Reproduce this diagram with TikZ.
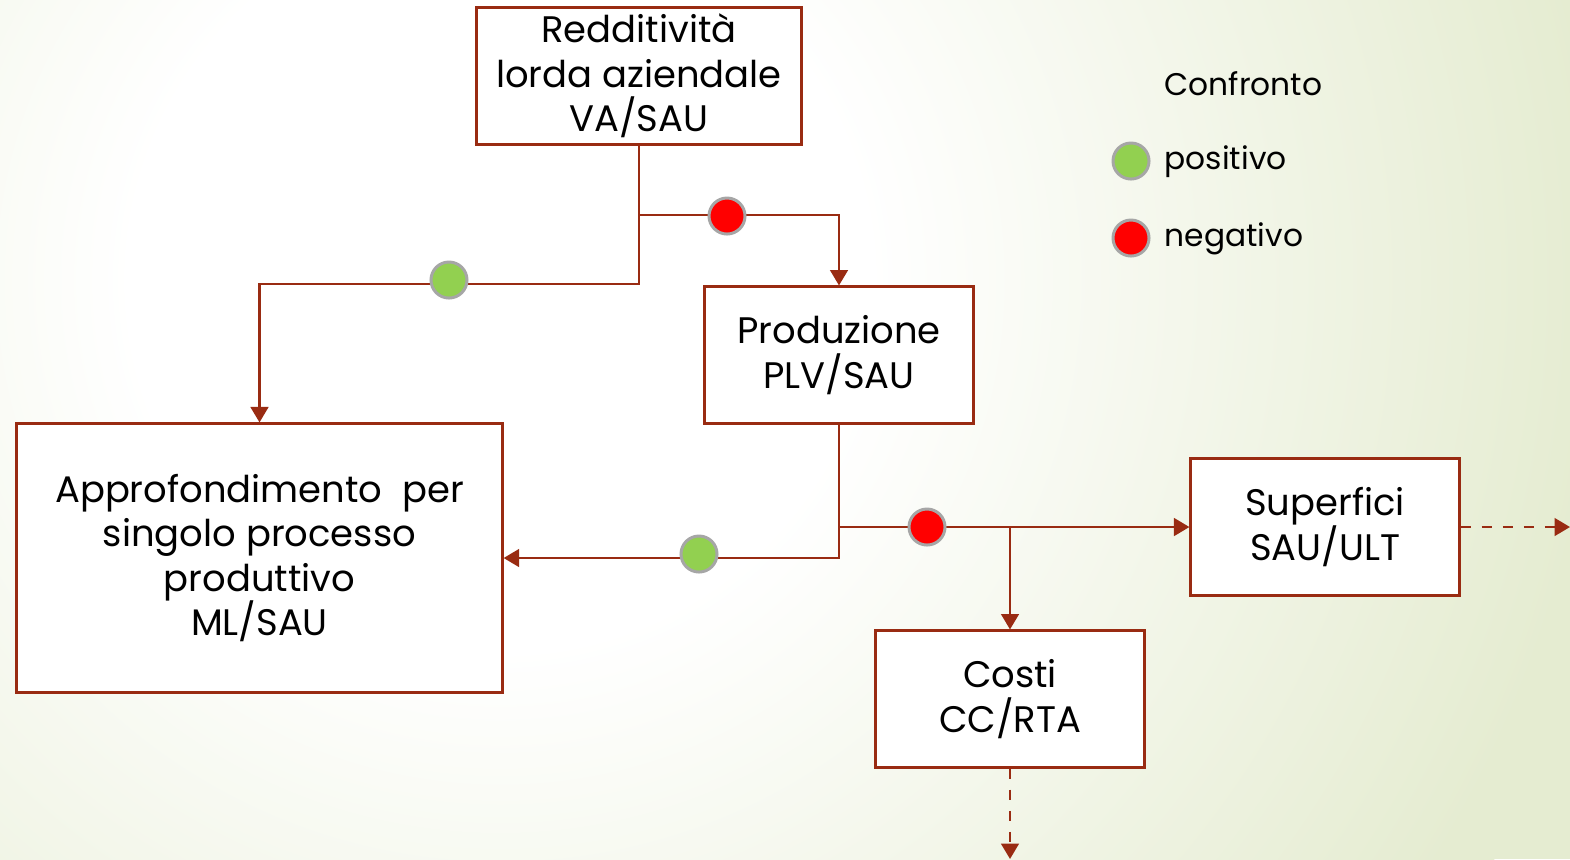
\documentclass[tikz,border=0pt]{standalone}
\usepackage{fontspec}
\setmainfont{Poppins}
\usepackage{xcolor}
\usetikzlibrary{positioning, calc, arrows.meta}

\definecolor{linkred}{RGB}{153,43,18}
\definecolor{dotgreen}{RGB}{146,208,80}
\definecolor{dotred}{RGB}{255,0,0}
\definecolor{dotrim}{RGB}{166,166,166}
\definecolor{bggreen}{RGB}{229,236,209}

\pgfdeclareradialshading{bgshade}{\pgfpoint{0bp}{0bp}}{color(0bp)=(white); color(8bp)=(white); color(24bp)=(bggreen); color(50bp)=(bggreen)}

\begin{document}
\begin{tikzpicture}[x=0.01cm, y=-0.01cm,
    box/.style={rectangle, draw=linkred, line width=0.85pt, fill=white, align=center,
        font=\fontsize{10.5}{12.7}\selectfont, inner sep=0pt},
    link/.style={draw=linkred, line width=0.8pt, -{Triangle[width=5pt, length=4.4pt]}},
    dot/.style={circle, draw=dotrim, line width=0.85pt, minimum size=0.36cm, inner sep=0pt},
    legtxt/.style={anchor=west, inner sep=0pt, font=\fontsize{8.9}{11}\selectfont}]
    % background
    \begin{scope}
        \clip (0,0) rectangle (1570,859);
        \fill[bggreen] (0,0) rectangle (1570,859);
        \shade[shading=bgshade] (500,280) circle[radius=11.5cm];
    \end{scope}
    \useasboundingbox (0,0) rectangle (1570,859);

    % boxes
    \node[box, minimum width=3.24cm, minimum height=1.36cm] (redd) at (639,76) {Redditività\\lorda aziendale\\VA/SAU};
    \node[box, minimum width=2.68cm, minimum height=1.36cm] (prod) at (839,355) {Produzione\\PLV/SAU};
    \node[box, minimum width=4.85cm, minimum height=2.68cm] (appr) at (259.5,558) {Approfondimento~ per\\singolo processo\\produttivo\\ML/SAU};
    \node[box, minimum width=2.68cm, minimum height=1.36cm] (sup) at (1325,527) {Superfici\\SAU/ULT};
    \node[box, minimum width=2.68cm, minimum height=1.36cm] (costi) at (1010,699) {Costi\\CC/RTA};

    % levels of the branches
    \coordinate (lvlA) at (0,215);
    \coordinate (lvlB) at (0,284);
    \coordinate (outR) at (1570,527);
    \coordinate (outB) at (1010,859);

    % connectors
    \draw[link] (redd.south) -- (redd.south |- lvlB) -| (appr.north);
    \draw[link] (redd.south |- lvlA) -| (prod.north);
    \draw[link] (prod.south) |- (appr.east);
    \draw[link] (prod.south |- sup.west) -- (sup.west);
    \draw[link] (costi.north |- sup.west) -- (costi.north);
    \draw[link, dashed] (sup.east) -- (outR);
    \draw[link, dashed] (costi.south) -- (outB);

    % comparison dots
    \node[dot, fill=dotgreen] (gA) at (449,280) {};
    \node[dot, fill=dotred] (rA) at (727,216) {};
    \node[dot, fill=dotgreen] (gB) at (699,554) {};
    \node[dot, fill=dotred] (rB) at (927,527) {};

    % legend
    \node[legtxt] (conf) at (1164,84) {Confronto};
    \node[dot, fill=dotgreen] (lpos) at (1131,161) {};
    \node[legtxt] (tpos) at (1164,162) {positivo};
    \node[dot, fill=dotred] (lneg) at (1131,238) {};
    \node[legtxt] (tneg) at (1164,239) {negativo};
\end{tikzpicture}
\end{document}
